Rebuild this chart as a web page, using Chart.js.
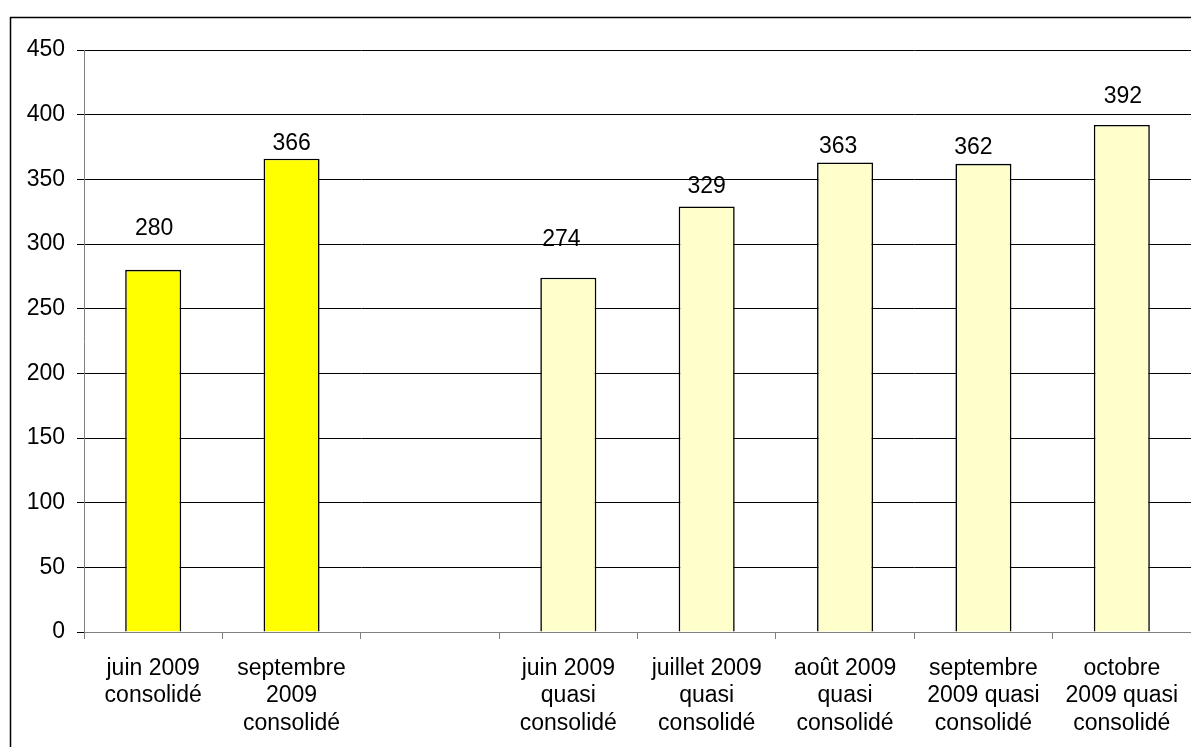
<!DOCTYPE html>
<html lang="fr">
<head>
<meta charset="utf-8">
<title>Consolidé / quasi consolidé 2009</title>
<script src="https://cdn.jsdelivr.net/npm/chart.js@4/dist/chart.umd.min.js"></script>
<style>
  html, body { margin: 0; padding: 0; background: #fff; }
  canvas { display: block; }
</style>
</head>
<body>
<canvas id="chart" width="1191" height="747"></canvas>
<script>
// Category labels, one line per entry (third slot is a blank spacer)
const categories = [
  ['juin 2009', 'consolidé'],
  ['septembre', '2009', 'consolidé'],
  '',
  ['juin 2009', 'quasi', 'consolidé'],
  ['juillet 2009', 'quasi', 'consolidé'],
  ['août 2009', 'quasi', 'consolidé'],
  ['septembre', '2009 quasi', 'consolidé'],
  ['octobre', '2009 quasi', 'consolidé']
]

const values = [280, 366, null, 274, 329, 363, 362, 392]

// first two bars are the consolidated figures
const consolidatedCount = 2

const yTicks = [0, 50, 100, 150, 200, 250, 300, 350, 400, 450]

// value labels were nudged by hand: pixels above the bar top, and sideways shift
const labelLift = [43, 17, 0, 40, 21, 18, 18, 30]
const labelShift = [1, 0, 0, -7, 0, -7, -10, 1]

const FONT = "'Liberation Sans', Arial, sans-serif"
Chart.defaults.font.family = FONT
Chart.defaults.font.size = 23
Chart.defaults.color = '#000'

// outer frame (only the top and left edges are inside the canvas)
const framePlugin = {
  id: 'frame',
  beforeDraw(chart) {
    const ctx = chart.ctx
    ctx.save()
    ctx.strokeStyle = '#000'
    ctx.lineWidth = 1.5
    ctx.beginPath()
    ctx.moveTo(10.5, chart.height)
    ctx.lineTo(10.5, 17.5)
    ctx.lineTo(chart.width, 17.5)
    ctx.stroke()
    ctx.restore()
  }
}

// value printed above each bar
const valueLabels = {
  id: 'valueLabels',
  afterDatasetsDraw(chart) {
    const ctx = chart.ctx
    const meta = chart.getDatasetMeta(0)
    ctx.save()
    ctx.font = '23px ' + FONT
    ctx.fillStyle = '#000'
    ctx.textAlign = 'center'
    ctx.textBaseline = 'alphabetic'
    meta.data.forEach((bar, i) => {
      const v = values[i]
      if (v == null) return
      const cy = bar.y - labelLift[i]
      ctx.fillText(String(v), bar.x + labelShift[i], cy + 8)
    })
    ctx.restore()
  }
}

new Chart(document.getElementById('chart'), {
  type: 'bar',
  data: {
    labels: categories,
    datasets: [{
      data: values,
      backgroundColor: values.map((_, i) => i < consolidatedCount ? '#ffff00' : '#ffffcc'),
      borderColor: '#000',
      borderWidth: 1.6,
      barPercentage: 0.405,
      categoryPercentage: 1
    }]
  },
  options: {
    responsive: false,
    animation: false,
    layout: { padding: { top: 50, left: 0, right: 0, bottom: 0 } },
    plugins: {
      legend: { display: false },
      tooltip: { enabled: false }
    },
    scales: {
      x: {
        offset: true,
        grid: {
          offset: true,
          drawOnChartArea: false,
          drawTicks: true,
          tickLength: 7,
          color: '#808080'
        },
        border: { color: '#808080', width: 1 },
        ticks: {
          maxRotation: 0,
          autoSkip: false,
          padding: 16,
          font: { size: 23, lineHeight: 1.19 }
        },
        afterFit(scale) {
          scale.height = 115
          // let the plot run right up to the canvas edge
          scale.paddingLeft = 0
          scale.paddingRight = 0
        }
      },
      y: {
        min: 0,
        max: 450,
        afterBuildTicks(scale) { scale.ticks = yTicks.map(v => ({ value: v })) },
        grid: {
          color: '#000',
          lineWidth: 1,
          tickLength: 7
        },
        border: { color: '#808080', width: 1 },
        ticks: { padding: 12, font: { size: 23 } },
        afterFit(scale) { scale.width = 84 }
      }
    }
  },
  plugins: [framePlugin, valueLabels]
})
</script>
</body>
</html>
